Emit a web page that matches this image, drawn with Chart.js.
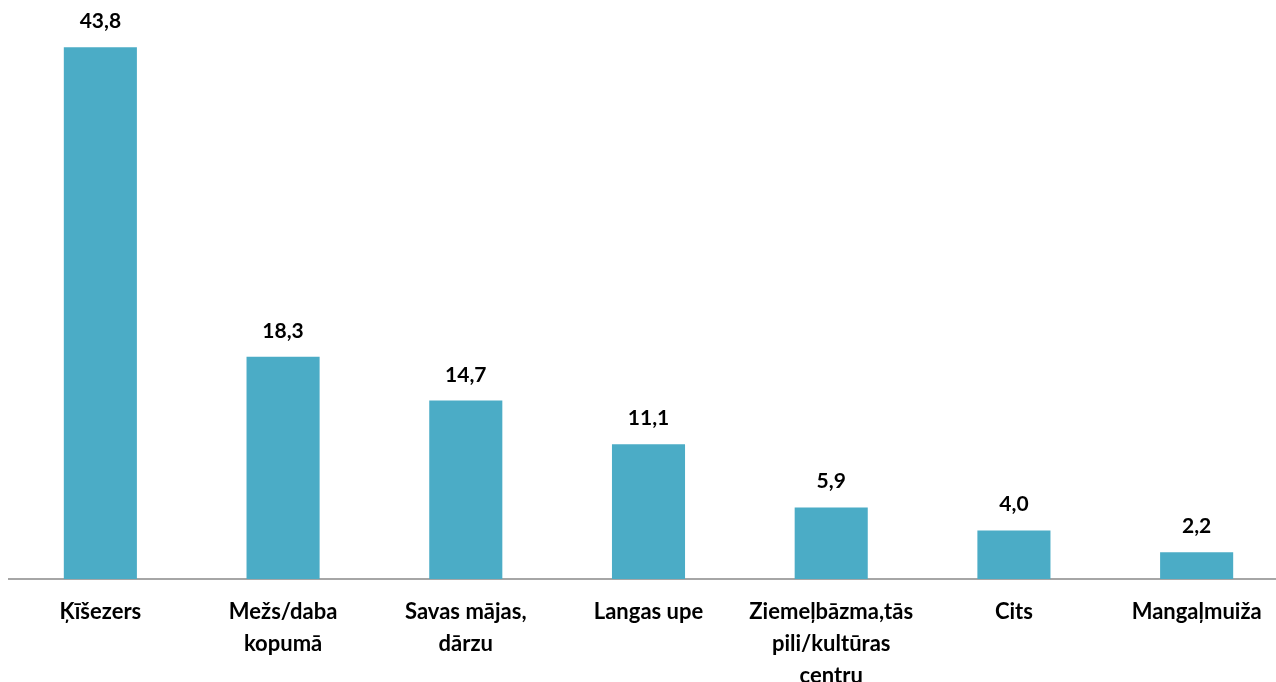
<!DOCTYPE html>
<html>
<head>
<meta charset="utf-8">
<script src="https://cdn.jsdelivr.net/npm/chart.js@4.4.0/dist/chart.umd.min.js"></script>
<style>
  html, body { margin: 0; padding: 0; background: #fff; overflow: hidden; }
  #wrap { width: 1288px; height: 682px; position: relative; }
</style>
</head>
<body>
<div id="wrap"><canvas id="chart"></canvas></div>
<script>
const categories = [
    'Ķīšezers',
    ['Mežs/daba', 'kopumā'],
    ['Savas mājas,', 'dārzu'],
    'Langas upe',
    ['Ziemeļbāzma,tās', 'pili/kultūras', 'centru'],
    'Cits',
    'Mangaļmuiža'
];
const values = [43.8, 18.3, 14.7, 11.1, 5.9, 4.0, 2.2];

const FONT = 'Lato, "Open Sans", sans-serif';

// draws the value above each bar, with a decimal comma
const valueLabels = {
    id: 'valueLabels',
    afterDatasetsDraw(chart) {
        const ctx = chart.ctx;
        const meta = chart.getDatasetMeta(0);
        ctx.save();
        ctx.font = 'bold 21px ' + FONT;
        ctx.fillStyle = '#000';
        ctx.textAlign = 'center';
        ctx.textBaseline = 'alphabetic';
        meta.data.forEach((bar, i) => {
            const txt = values[i].toFixed(1).replace('.', ',');
            ctx.fillText(txt, bar.x, bar.y - 19);
        });
        ctx.restore();
    }
};

const ctx = document.getElementById('chart').getContext('2d');

const chart = new Chart(ctx, {
    type: 'bar',
    data: {
        labels: categories,
        datasets: [{
            data: values,
            backgroundColor: '#4BACC6',
            barPercentage: 0.4,
            categoryPercentage: 1.0,
        }],
    },
    options: {
        responsive: true,
        maintainAspectRatio: false,
        animation: false,
        layout: { padding: { left: 9, right: 0, top: 0, bottom: 0 } },
        plugins: {
            legend: { display: false },
            tooltip: { enabled: false },
        },
        scales: {
            x: {
                grid: { display: false, drawTicks: false },
                border: { display: true, color: '#A6A6A6', width: 2 },
                ticks: {
                    color: '#000',
                    font: { family: FONT, size: 22, weight: 'bold', lineHeight: 1.45 },
                    padding: 17,
                    maxRotation: 0,
                    autoSkip: false,
                },
                afterFit(axis) { axis.height = 103; },
            },
            y: {
                display: false,
                min: 0,
                max: 47.7,
            },
        },
    },
    plugins: [valueLabels],
});
</script>
</body>
</html>
